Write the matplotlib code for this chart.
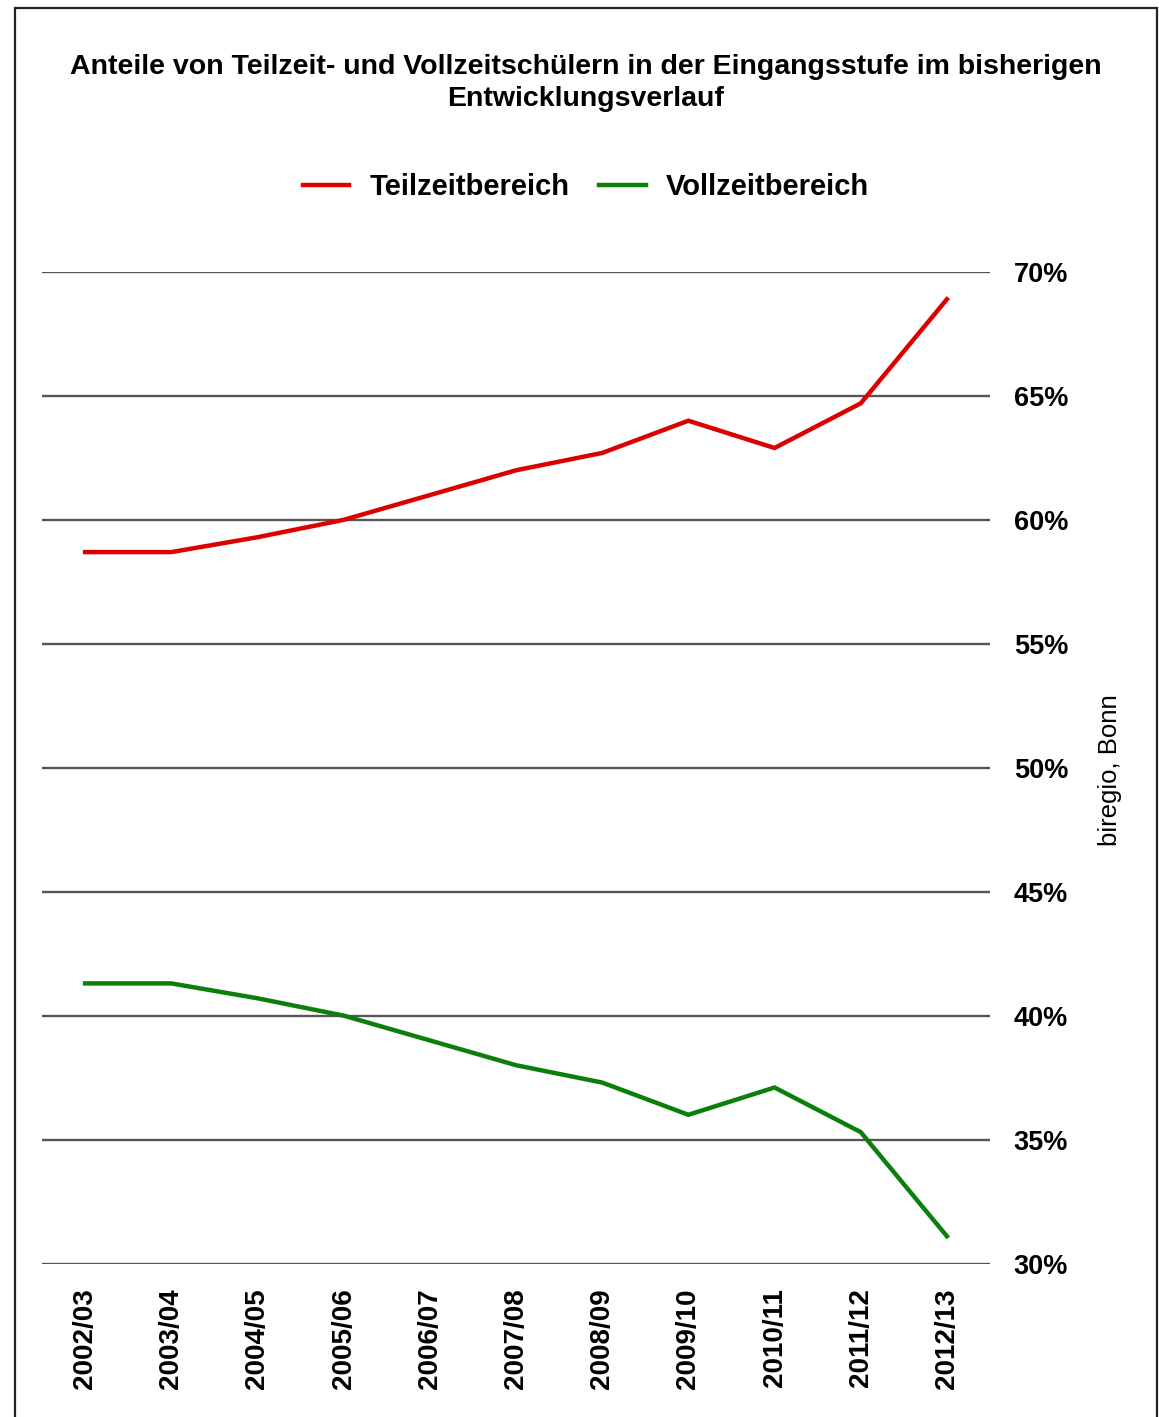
import matplotlib
matplotlib.use("Agg")
import matplotlib.pyplot as plt
from matplotlib.patches import Rectangle

plt.rcParams['font.family'] = ['Liberation Sans', 'DejaVu Sans']

schuljahre = ['2002/03', '2003/04', '2004/05', '2005/06', '2006/07', '2007/08',
              '2008/09', '2009/10', '2010/11', '2011/12', '2012/13']
teilzeit = [58.7, 58.7, 59.3, 60.0, 61.0, 62.0, 62.7, 64.0, 62.9, 64.7, 68.9]
vollzeit = [41.3, 41.3, 40.7, 40.0, 39.0, 38.0, 37.3, 36.0, 37.1, 35.3, 31.1]
y_ticks = [30, 35, 40, 45, 50, 55, 60, 65, 70]

W, H = 1159, 1417
fig = plt.figure(figsize=(W / 100, H / 100), dpi=100)
ax = fig.add_axes([42 / W, 1 - 1263.5 / H, (990 - 42) / W, (1263.5 - 272) / H])

x = range(len(schuljahre))
ax.plot(x, teilzeit, color='#dd0000', linewidth=3.2, label='Teilzeitbereich', solid_joinstyle='miter')
ax.plot(x, vollzeit, color='#0a800a', linewidth=3.2, label='Vollzeitbereich', solid_joinstyle='miter')

ax.set_xlim(-0.5, len(schuljahre) - 0.5)
ax.set_ylim(30, 70)
ax.set_yticks(y_ticks)
ax.set_yticklabels(['{}%'.format(t) for t in y_ticks], fontsize=19.5, fontweight='bold')
ax.yaxis.tick_right()
ax.tick_params(axis='y', length=0, pad=17)
ax.set_xticks(list(x))
ax.set_xticklabels(schuljahre, rotation=90, fontsize=20, fontweight='bold')
ax.tick_params(axis='x', length=0, pad=18)
ax.grid(axis='y', color='#555555', linewidth=1.7)
ax.set_axisbelow(True)
for s in ax.spines.values():
    s.set_visible(False)

# Titel und Legende oben
fig.text(586 / W, 1 - 83 / H, 'Anteile von Teilzeit- und Vollzeitschülern in der Eingangsstufe im bisherigen\nEntwicklungsverlauf',
         ha='center', va='center', fontsize=20.5, fontweight='bold', linespacing=1.3)
fig.legend(loc='center', bbox_to_anchor=(586 / W, 1 - 187 / H), ncol=2, frameon=False,
           prop={'size': 21, 'weight': 'bold'}, handlelength=1.6, columnspacing=1.0, handletextpad=0.7)

fig.text(1110 / W, 1 - 770 / H, 'biregio, Bonn', rotation=90, ha='center', va='center', fontsize=18.5)

# Rahmen
fig.add_artist(Rectangle((15 / W, -0.05), (1157 - 15) / W, 1 - 8 / H + 0.05, transform=fig.transFigure,
                         fill=False, edgecolor='#222222', linewidth=1.6, clip_on=False))

fig.savefig('out.png', dpi=100)
